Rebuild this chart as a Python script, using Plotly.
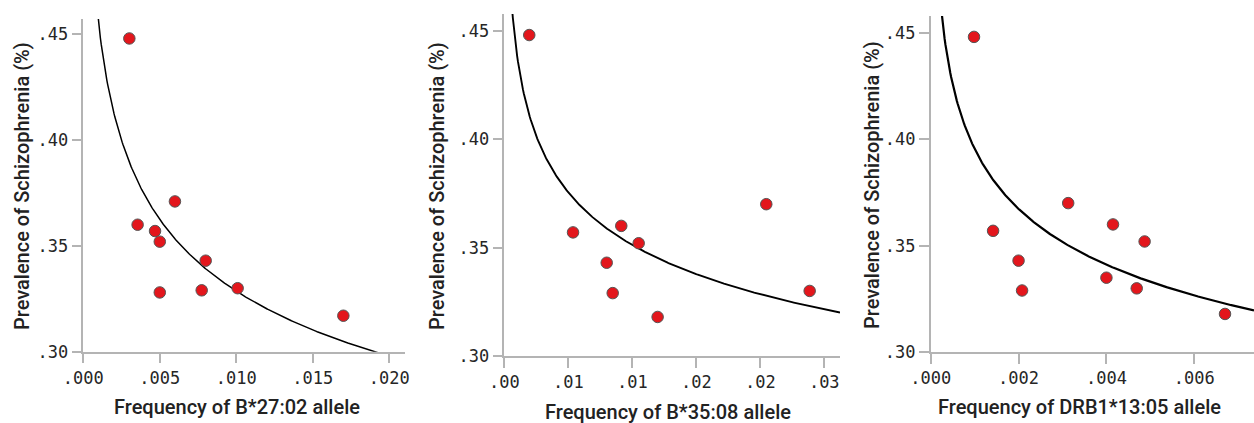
import numpy as np
import plotly.graph_objects as go

# ---- data ----
y_title = "Prevalence of Schizophrenia (%)"

p1_title = "Frequency of B*27:02 allele"
p1_x = [0.00301, 0.00355, 0.00469, 0.00500, 0.00599, 0.00500, 0.00774, 0.00800, 0.01009, 0.01700]
p1_y = [0.448, 0.360, 0.357, 0.352, 0.371, 0.328, 0.329, 0.343, 0.330, 0.317]
p1_ticks = [0.000, 0.005, 0.010, 0.015, 0.020]
p1_ticktext = [".000", ".005", ".010", ".015", ".020"]

p2_title = "Frequency of B*35:08 allele"
p2_x = [0.00195, 0.00537, 0.00914, 0.01050, 0.00800, 0.00847, 0.01198, 0.02047, 0.02386]
p2_y = [0.448, 0.357, 0.360, 0.352, 0.343, 0.329, 0.318, 0.370, 0.330]
p2_ticks = [0.000, 0.005, 0.010, 0.015, 0.020, 0.025]
p2_ticktext = [".00", ".01", ".01", ".02", ".02", ".03"]

p3_title = "Frequency of DRB1*13:05 allele"
p3_x = [0.000986, 0.00142, 0.00200, 0.00208, 0.00313, 0.00415, 0.00487, 0.00400, 0.00469, 0.00670]
p3_y = [0.448, 0.357, 0.343, 0.329, 0.370, 0.360, 0.352, 0.335, 0.330, 0.318]
p3_ticks = [0.000, 0.002, 0.004, 0.006]
p3_ticktext = [".000", ".002", ".004", ".006"]

y_ticks = [0.30, 0.35, 0.40, 0.45]
y_ticktext = [".30", ".35", ".40", ".45"]


def power_fit_line(xs, ys, xmax, n=400):
    """Power-law regression (y = a*x^b) of the plotted points, as in the source."""
    b, lna = np.polyfit(np.log(xs), np.log(ys), 1)
    gx = np.linspace(xmax / 2000, xmax, n)
    return gx, np.exp(lna) * gx ** b


# ---- styling ----
W, H = 1254, 423
MARKER_COLOR = "#e3161c"
AXIS_COLOR = "#b4b4b4"
TICK_FONT = dict(family="DejaVu Sans Mono", size=17, color="#262626")
TITLE_FONT = dict(family="Roboto", size=20, color="#222222", weight=500)

panels = [
    dict(x=p1_x, y=p1_y, ticks=p1_ticks, tt=p1_ticktext,
         title=p1_title, px=(83.3, 405), py=(19, 351.7), xr=(0, 0.02103), yr=(0.30, 0.4572),
         lw=1.5, xt=(236.7, 406.5), yt=(22, 186)),
    dict(x=p2_x, y=p2_y, ticks=p2_ticks, tt=p2_ticktext,
         title=p2_title, px=(504.3, 840), py=(14, 356), xr=(0, 0.02623), yr=(0.30, 0.4577),
         lw=1.9, xt=(667.5, 411.5), yt=(437, 186)),
    dict(x=p3_x, y=p3_y, ticks=p3_ticks, tt=p3_ticktext,
         title=p3_title, px=(930.7, 1254), py=(16, 352.3), xr=(0, 0.00736), yr=(0.30, 0.4578),
         lw=2.2, xt=(1079, 406.5), yt=(872, 185)),
]

fig = go.Figure()
layout = dict(width=W, height=H, margin=dict(l=0, r=0, t=0, b=0, autoexpand=False),
              paper_bgcolor="white", plot_bgcolor="white", showlegend=False)
annotations = []

for i, p in enumerate(panels, start=1):
    xa = "x" if i == 1 else f"x{i}"
    ya = "y" if i == 1 else f"y{i}"
    fx, fy = power_fit_line(p["x"], p["y"], p["xr"][1])
    fig.add_trace(go.Scatter(x=fx, y=fy, mode="lines",
                             line=dict(color="black", width=p["lw"]),
                             xaxis=xa, yaxis=ya, hoverinfo="skip"))
    fig.add_trace(go.Scatter(x=p["x"], y=p["y"], mode="markers",
                             marker=dict(size=11.5, color=MARKER_COLOR,
                                         line=dict(color="#555555", width=1)),
                             xaxis=xa, yaxis=ya, cliponaxis=False))
    xkey = "xaxis" if i == 1 else f"xaxis{i}"
    ykey = "yaxis" if i == 1 else f"yaxis{i}"
    layout[xkey] = dict(domain=[p["px"][0] / W, p["px"][1] / W], range=list(p["xr"]),
                        anchor=ya, showgrid=False, zeroline=False, showline=True,
                        linecolor=AXIS_COLOR, linewidth=1.5, ticks="outside", ticklen=10,
                        tickcolor=AXIS_COLOR, tickwidth=1.5, tickvals=p["ticks"],
                        ticktext=p["tt"], tickfont=TICK_FONT, automargin=False)
    layout[ykey] = dict(domain=[1 - p["py"][1] / H, 1 - p["py"][0] / H], range=list(p["yr"]),
                        anchor=xa, showgrid=False, zeroline=False, showline=True,
                        linecolor=AXIS_COLOR, linewidth=1.5, ticks="outside", ticklen=10,
                        tickcolor=AXIS_COLOR, tickwidth=1.5, tickvals=y_ticks,
                        ticktext=y_ticktext, tickfont=TICK_FONT, automargin=False)
    annotations.append(dict(text=p["title"], x=p["xt"][0] / W, y=1 - p["xt"][1] / H,
                            xref="paper", yref="paper", showarrow=False,
                            xanchor="center", yanchor="middle", font=TITLE_FONT))
    annotations.append(dict(text=y_title, x=p["yt"][0] / W, y=1 - p["yt"][1] / H,
                            xref="paper", yref="paper", showarrow=False, textangle=-90,
                            xanchor="center", yanchor="middle", font=TITLE_FONT))

layout["annotations"] = annotations
fig.update_layout(**layout)
fig.write_html("out.html")
